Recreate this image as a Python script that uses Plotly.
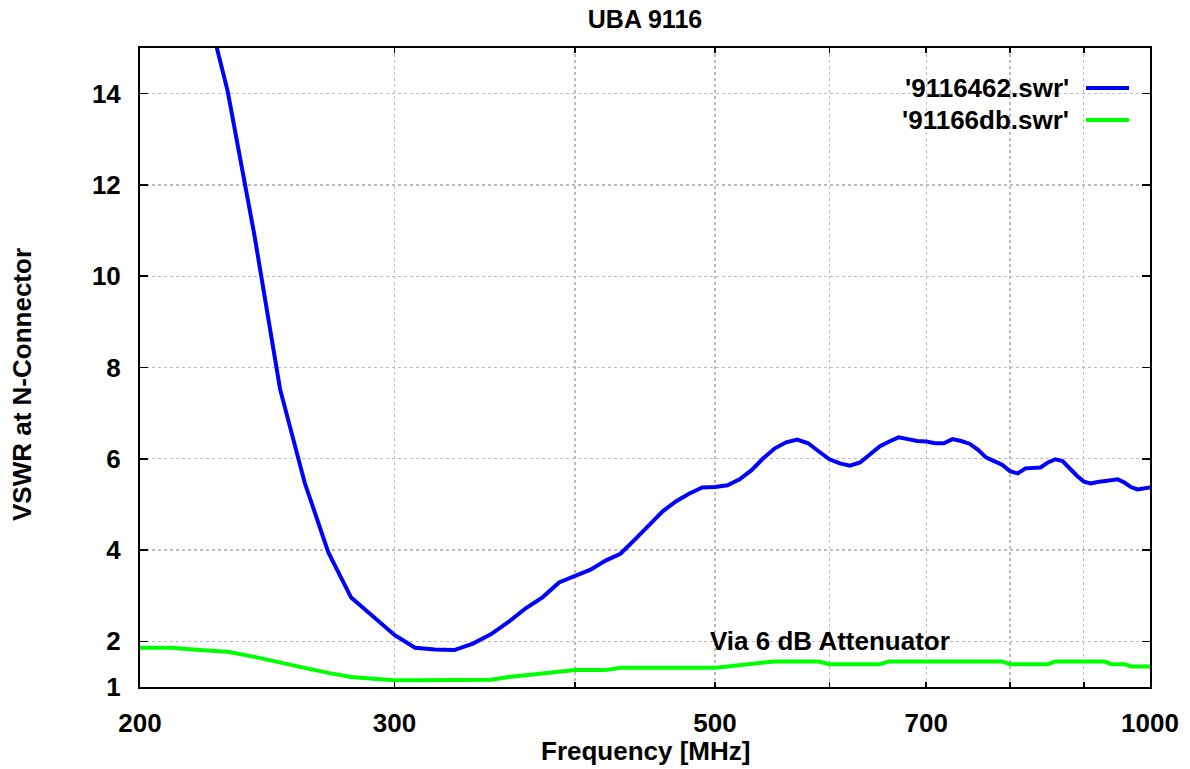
import math
import plotly.graph_objects as go

# ---- data ----
freq_blue = [220, 230, 240, 250, 260, 270, 280, 290, 300, 310, 320, 330, 340, 350,
             360, 370, 380, 390, 400, 410, 420, 430, 440, 450, 460, 470, 480, 490,
             500, 510, 520, 530, 540, 550, 560, 570, 580, 590, 600, 610, 620, 630,
             640, 650, 660, 670, 680, 690, 700, 710, 720, 730, 740, 750, 760, 770,
             780, 790, 800, 810, 820, 830, 840, 850, 860, 870, 880, 890, 900, 910,
             920, 930, 940, 950, 960, 970, 980, 990, 1000]
vswr_blue = [16.5, 14.05, 10.9, 7.53, 5.48, 3.95, 2.96, 2.53, 2.14, 1.86, 1.82, 1.81, 1.95, 2.16,
             2.43, 2.73, 2.97, 3.29, 3.42, 3.57, 3.77, 3.92, 4.23, 4.54, 4.85, 5.07, 5.24, 5.37,
             5.38, 5.42, 5.55, 5.75, 6.01, 6.23, 6.36, 6.42, 6.34, 6.16, 5.99, 5.90, 5.85, 5.92,
             6.10, 6.27, 6.38, 6.47, 6.43, 6.39, 6.38, 6.34, 6.34, 6.43, 6.39, 6.33, 6.20, 6.03,
             5.95, 5.87, 5.73, 5.68, 5.79, 5.80, 5.81, 5.92, 5.99, 5.95, 5.78, 5.63, 5.50, 5.46,
             5.49, 5.51, 5.52, 5.55, 5.48, 5.38, 5.33, 5.35, 5.37]

freq_green = [200, 210, 220, 230, 240, 250, 260, 270, 280, 290, 300, 310, 320, 330, 340, 350,
              360, 370, 380, 390, 400, 410, 420, 430, 440, 450, 460, 470, 480, 490, 500,
              510, 520, 530, 540, 550, 560, 570, 580, 590, 600, 610, 620, 630, 640, 650,
              660, 670, 680, 690, 700, 710, 720, 730, 740, 750, 760, 770, 780, 790, 800,
              810, 820, 830, 840, 850, 860, 870, 880, 890, 900, 910, 920, 930, 940, 950,
              960, 970, 980, 990, 1000]
vswr_green = [1.86, 1.86, 1.81, 1.77, 1.66, 1.53, 1.42, 1.31, 1.22, 1.18, 1.15, 1.15, 1.15, 1.15, 1.15, 1.16,
              1.22, 1.26, 1.31, 1.35, 1.37, 1.37, 1.37, 1.42, 1.42, 1.42, 1.42, 1.42, 1.42, 1.42, 1.42,
              1.45, 1.48, 1.50, 1.53, 1.56, 1.56, 1.56, 1.56, 1.56, 1.50, 1.50, 1.50, 1.50, 1.50, 1.50,
              1.56, 1.56, 1.56, 1.56, 1.56, 1.56, 1.56, 1.56, 1.56, 1.56, 1.56, 1.56, 1.56, 1.56, 1.50,
              1.50, 1.50, 1.50, 1.50, 1.50, 1.56, 1.56, 1.56, 1.56, 1.56, 1.56, 1.56, 1.56, 1.50, 1.50,
              1.50, 1.45, 1.45, 1.45, 1.45]

series_names = ["'9116462.swr'", "'91166db.swr'"]
series_colors = ["#0000ff", "#00ff00"]

x_tickvals = [200, 300, 500, 700, 1000]
x_minorvals = [400, 600, 800, 900]
y_tickvals = [1, 2, 4, 6, 8, 10, 12, 14]

title_text = "UBA 9116"
x_title = "Frequency [MHz]"
y_title = "VSWR at N-Connector"
label_text = "Via 6 dB Attenuator"

FONT = "Liberation Sans, Arial, Helvetica, sans-serif"
FS = 26
GRID = "#bdbdbd"

# the page body margin is removed (see post_script), so the figure fills the window
W, H = 1190, 769
PL, PR, PT, PB = 140, 1150, 48, 687          # plot frame in window pixels
PW, PH = PR - PL, PB - PT


def xp(px):
    return (px - PL) / PW


def yp(py):
    return (PB - py) / PH


fig = go.Figure()
fig.add_trace(go.Scatter(x=freq_blue, y=vswr_blue, mode="lines", name=series_names[0],
                         line=dict(color=series_colors[0], width=4), showlegend=False))
fig.add_trace(go.Scatter(x=freq_green, y=vswr_green, mode="lines", name=series_names[1],
                         line=dict(color=series_colors[1], width=4), showlegend=False))

tickfont = dict(family=FONT, size=FS, color="black", weight="bold")

fig.update_layout(
    width=W, height=H,
    margin=dict(l=PL, r=W - PR, t=PT, b=H - PB),
    paper_bgcolor="white", plot_bgcolor="white",
    hovermode=False,
    title=dict(text=title_text, x=0.5, xref="paper", xanchor="center",
               y=1 - 19 / H, yref="container", yanchor="middle",
               font=dict(family=FONT, size=FS - 1, color="black", weight="bold")),
    xaxis=dict(type="log", range=[math.log10(200), math.log10(1000)],
               tickmode="array", tickvals=x_tickvals, ticktext=[str(v) for v in x_tickvals],
               ticks="inside", ticklen=5, tickwidth=1.5, tickcolor="black",
               showline=True, linewidth=2, linecolor="black", mirror="ticks",
               showgrid=True, gridcolor=GRID, griddash="dot", gridwidth=1.2,
               zeroline=False, tickfont=tickfont, ticklabelstandoff=12,
               minor=dict(tickmode="array", tickvals=x_minorvals, ticks="inside", ticklen=5,
                          tickwidth=1.5, tickcolor="black", showgrid=True, gridcolor=GRID,
                          griddash="dot", gridwidth=1.2)),
    yaxis=dict(range=[1, 15], tickmode="array", tickvals=y_tickvals,
               ticktext=[str(v) for v in y_tickvals],
               ticks="inside", ticklen=8, tickwidth=1.5, tickcolor="black",
               showline=True, linewidth=2, linecolor="black", mirror="ticks",
               showgrid=True, gridcolor=GRID, griddash="dot", gridwidth=1.2,
               zeroline=False, tickfont=tickfont, ticklabelstandoff=12),
    showlegend=False,
)

# axis titles
fig.add_annotation(text=x_title, xref="paper", yref="paper", x=0.5, y=yp(751),
                   xanchor="center", yanchor="middle", showarrow=False,
                   font=dict(family=FONT, size=FS, color="black", weight="bold"))
fig.add_annotation(text=y_title, xref="paper", yref="paper", x=xp(22),
                   y=yp(385), textangle=-90,
                   xanchor="center", yanchor="middle", showarrow=False,
                   font=dict(family=FONT, size=FS, color="black", weight="bold"))

# in-plot label
fig.add_annotation(text=label_text, xref="paper", yref="y", x=xp(708), y=2,
                   xanchor="left", yanchor="middle", showarrow=False,
                   font=dict(family=FONT, size=FS, color="black", weight="bold"))

# legend (text on the left, sample line on the right, as in gnuplot)
legend_rows = [(88, 0), (120, 1)]
for py, i in legend_rows:
    fig.add_annotation(text=series_names[i], xref="paper", yref="paper",
                       x=xp(1071), y=yp(py), xanchor="right", yanchor="middle",
                       showarrow=False,
                       font=dict(family=FONT, size=FS, color="black", weight="bold"))
    fig.add_shape(type="line", xref="paper", yref="paper",
                  x0=xp(1086), x1=xp(1129), y0=yp(py), y1=yp(py),
                  line=dict(color=series_colors[i], width=4))

fig.write_html("out.html",
               config={"displayModeBar": False, "staticPlot": True},
               post_script="document.body.style.margin='0px';document.body.style.overflow='hidden';")
